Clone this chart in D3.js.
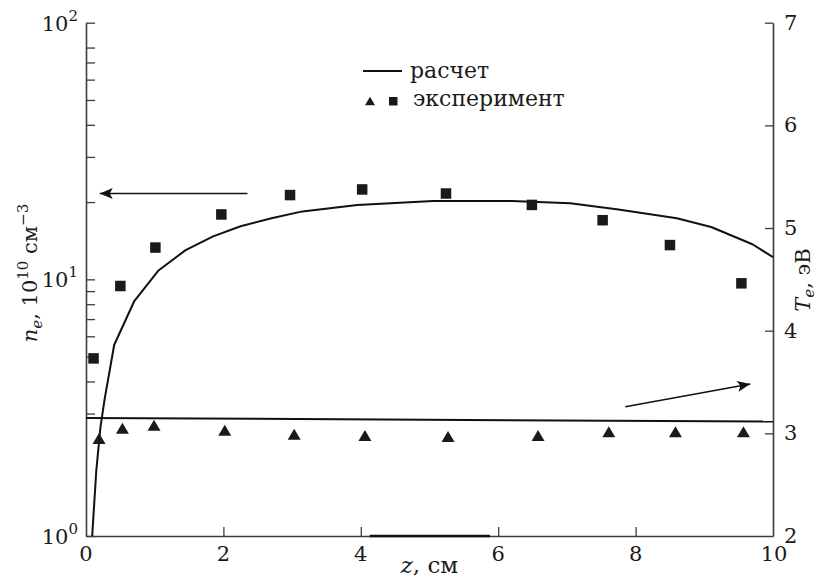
<!DOCTYPE html>
<html>
<head>
<meta charset="utf-8">
<script src="https://cdn.jsdelivr.net/npm/d3@7"></script>
<style>
  html, body { margin: 0; padding: 0; background: #fff; }
  svg { display: block; }
</style>
</head>
<body>
<svg id="chart" width="818" height="579"></svg>
<script>
// Computed electron density profile n_e(z), 10^10 cm^-3
const calcZ = [0.09, 0.15, 0.21, 0.27, 0.41, 0.70, 1.05, 1.45, 1.85, 2.25, 2.70, 3.15, 3.95, 5.05, 6.20, 7.05, 7.75, 8.60, 9.10, 9.70, 10.0];
const calcNe = [1.0, 1.8, 2.65, 3.4, 5.55, 8.2, 10.8, 13.0, 14.7, 16.1, 17.3, 18.4, 19.5, 20.2, 20.2, 19.8, 18.7, 17.3, 16.0, 13.7, 12.2];

// Computed electron temperature T_e(z), eV
const calcTeZ = [0, 10];
const calcTe = [3.15, 3.115];

// Measured density (squares)
const expNeZ = [0.11, 0.50, 1.01, 1.97, 2.97, 4.02, 5.24, 6.49, 7.52, 8.50, 9.54];
const expNe = [4.92, 9.42, 13.3, 17.9, 21.3, 22.4, 21.6, 19.5, 17.0, 13.6, 9.65];

// Measured temperature (triangles)
const expTeZ = [0.19, 0.53, 0.99, 2.02, 3.03, 4.06, 5.27, 6.58, 7.61, 8.58, 9.57];
const expTe = [2.95, 3.05, 3.08, 3.03, 2.99, 2.98, 2.97, 2.98, 3.015, 3.015, 3.015];

// Axis ticks
const xTicks = [0, 2, 4, 6, 8, 10];
const neMajorTicks = [1, 10, 100];
const neExponents = ["0", "1", "2"];
const neMinorTicks = [3, 4, 5, 6, 7, 8, 9, 20, 30, 40, 50, 60, 70, 80];
const teTicks = [2, 3, 4, 5, 6, 7];

const legendLabels = ["расчет", "эксперимент"];

const serif = "DejaVu Serif";
const svg = d3.select("#chart");
const axisColor = "#3c3c3c";
const textColor = "#1a1a1a";

const x = d3.scaleLinear().domain([0, 10]).range([86, 773]);
const yN = d3.scaleLog().domain([1, 100]).range([536, 22.7]);
const yT = d3.scaleLinear().domain([2, 7]).range([536, 22.7]);

function styleAxis(g) {
  g.select(".domain").attr("stroke", axisColor).attr("stroke-width", 1.6);
  g.selectAll(".tick line").attr("stroke", axisColor).attr("stroke-width", 1.3);
  g.selectAll(".tick text").remove();
}

function addText(parent) {
  return parent.append("text").attr("font-family", serif).attr("fill", textColor);
}

// Left (density) axis, ticks inward
svg.append("g")
  .attr("transform", `translate(${x(0)},0)`)
  .call(d3.axisLeft(yN).tickValues(neMajorTicks.concat(neMinorTicks))
    .tickSizeInner(-9).tickSizeOuter(0).tickFormat(""))
  .call(styleAxis);

// Right (temperature) axis, ticks inward
svg.append("g")
  .attr("transform", `translate(${x(10)},0)`)
  .call(d3.axisRight(yT).tickValues(teTicks.slice(1))
    .tickSizeInner(-8).tickSizeOuter(0).tickFormat(""))
  .call(styleAxis);

// Bottom axis
svg.append("g")
  .attr("transform", `translate(0,${yN(1)})`)
  .call(d3.axisBottom(x).tickValues(xTicks.slice(1, -1))
    .tickSizeInner(-9).tickSizeOuter(0).tickFormat(""))
  .call(styleAxis);

// darker stretch along the bottom axis
svg.append("line")
  .attr("x1", x(4.13)).attr("x2", x(5.88))
  .attr("y1", yN(1)).attr("y2", yN(1))
  .attr("stroke", "#111").attr("stroke-width", 2.4);

// Tick labels
const tickFont = 21;
svg.append("g").selectAll("text").data(xTicks).join("text")
  .attr("font-family", serif).attr("fill", textColor)
  .attr("x", d => x(d) + (d === 10 ? 1 : 0))
  .attr("y", 561)
  .attr("text-anchor", "middle")
  .attr("font-size", tickFont)
  .text(d => d);

const leftLabels = svg.append("g").selectAll("text").data(neMajorTicks).join("text")
  .attr("font-family", serif).attr("fill", textColor)
  .attr("x", 78)
  .attr("y", d => yN(d) + 8)
  .attr("text-anchor", "end")
  .attr("font-size", tickFont);
leftLabels.append("tspan").text("10");
leftLabels.append("tspan").attr("dy", -10).attr("font-size", 15).text((d, i) => neExponents[i]);

svg.append("g").selectAll("text").data(teTicks).join("text")
  .attr("font-family", serif).attr("fill", textColor)
  .attr("x", 784)
  .attr("y", d => yT(d) + 7)
  .attr("font-size", tickFont)
  .text(d => d);

// Axis titles
const xTitle = addText(svg)
  .attr("x", (x(0) + x(10)) / 2)
  .attr("y", 573)
  .attr("text-anchor", "middle")
  .attr("font-size", 23);
xTitle.append("tspan").attr("font-style", "italic").text("z");
xTitle.append("tspan").text(", см");

const yLTitle = addText(svg)
  .attr("transform", `translate(37,273) rotate(-90)`)
  .attr("text-anchor", "middle")
  .attr("font-size", 21);
yLTitle.append("tspan").attr("font-style", "italic").text("n");
yLTitle.append("tspan").attr("font-style", "italic").attr("font-size", 15).attr("dy", 5).text("e");
yLTitle.append("tspan").attr("dy", -5).text(", 10");
yLTitle.append("tspan").attr("font-size", 15).attr("dy", -9).text("10");
yLTitle.append("tspan").attr("dy", 9).text(" см");
yLTitle.append("tspan").attr("font-size", 15).attr("dy", -9).text("−3");

const yRTitle = addText(svg)
  .attr("transform", `translate(810,280) rotate(-90)`)
  .attr("text-anchor", "middle")
  .attr("font-size", 21);
yRTitle.append("tspan").attr("font-style", "italic").text("T");
yRTitle.append("tspan").attr("font-style", "italic").attr("font-size", 15).attr("dy", 4).text("e");
yRTitle.append("tspan").attr("dy", -4).text(", эВ");

// Computed curves
const neLine = d3.line().x(d => x(d[0])).y(d => yN(d[1]));
svg.append("path")
  .datum(d3.zip(calcZ, calcNe))
  .attr("d", neLine)
  .attr("fill", "none").attr("stroke", "#111").attr("stroke-width", 2)
  .attr("stroke-linejoin", "round");

const teLine = d3.line().x(d => x(d[0])).y(d => yT(d[1]));
svg.append("path")
  .datum(d3.zip(calcTeZ, calcTe))
  .attr("d", teLine)
  .attr("fill", "none").attr("stroke", "#111").attr("stroke-width", 2);

// Measured points
const sq = 10.5;
svg.append("g").selectAll("rect").data(d3.zip(expNeZ, expNe)).join("rect")
  .attr("x", d => x(d[0]) - sq / 2)
  .attr("y", d => yN(d[1]) - sq / 2)
  .attr("width", sq).attr("height", sq)
  .attr("fill", "#1a1a1a");

function triPath(cx, cy, w, h) {
  return `M${cx - w / 2},${cy + h / 2}L${cx + w / 2},${cy + h / 2}L${cx},${cy - h / 2}Z`;
}
svg.append("g").selectAll("path").data(d3.zip(expTeZ, expTe)).join("path")
  .attr("d", d => triPath(x(d[0]), yT(d[1]), 13, 11))
  .attr("fill", "#1a1a1a");

// Arrows indicating which axis each data set belongs to
svg.append("defs").append("marker")
  .attr("id", "head")
  .attr("viewBox", "-14 -7 16 14")
  .attr("refX", 0).attr("refY", 0)
  .attr("markerWidth", 16).attr("markerHeight", 14)
  .attr("markerUnits", "userSpaceOnUse")
  .attr("orient", "auto")
  .append("path")
  .attr("d", "M0,0L-13,-5.5L-10,0L-13,5.5Z")
  .attr("fill", "#111");

svg.append("line")
  .attr("x1", x(2.35)).attr("y1", yN(21.6))
  .attr("x2", x(0.2)).attr("y2", yN(21.6))
  .attr("stroke", "#111").attr("stroke-width", 1.5)
  .attr("marker-end", "url(#head)");

svg.append("line")
  .attr("x1", x(7.85)).attr("y1", yT(3.26))
  .attr("x2", x(9.67)).attr("y2", yT(3.48))
  .attr("stroke", "#111").attr("stroke-width", 1.5)
  .attr("marker-end", "url(#head)");

// Legend
const legend = svg.append("g");
legend.append("line")
  .attr("x1", 363).attr("x2", 402).attr("y1", 71).attr("y2", 71)
  .attr("stroke", "#111").attr("stroke-width", 2);
addText(legend).attr("x", 410).attr("y", 78).attr("font-size", 22).text(legendLabels[0]);
legend.append("path").attr("d", triPath(370, 101, 10, 8.5)).attr("fill", "#1a1a1a");
legend.append("rect").attr("x", 389).attr("y", 97).attr("width", 8.5).attr("height", 8.5).attr("fill", "#1a1a1a");
addText(legend).attr("x", 413).attr("y", 106).attr("font-size", 22).text(legendLabels[1]);
</script>
</body>
</html>
